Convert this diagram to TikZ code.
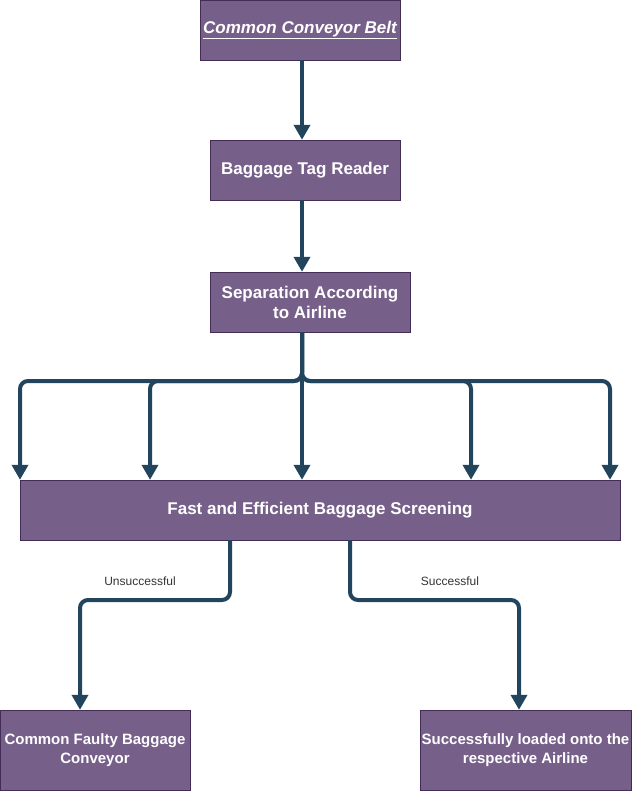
\documentclass[tikz,border=0pt]{standalone}
\usepackage{fontspec}
\setmainfont{Liberation Sans}
\usepackage{xcolor}
\usetikzlibrary{arrows.meta}
\definecolor{box area}{HTML}{76608A}
\definecolor{box edge}{HTML}{432D57}
\definecolor{flow line}{HTML}{23445D}
\colorlet{verdict text}{black!80}
\tikzset{stage/.style={draw=box edge, fill=box area, text=white, inner sep=0pt,
        align=center, font=\bfseries\fontsize{17}{20}\selectfont},
    outcome/.style={stage, font=\bfseries\fontsize{15}{19}\selectfont},
    flow/.style={draw=flow line, line width=4pt, rounded corners=8pt,
        -{Triangle[width=16pt,length=15pt]}},
    verdict/.style={text=verdict text, font=\fontsize{12}{14}\selectfont}}

\begin{document}
\begin{tikzpicture}[x=1pt, y=-1pt]
    \useasboundingbox (0,0) rectangle (631,791);
    \node[stage, minimum width=200pt, minimum height=60pt] (belt) at (300,30)
      {\textit{\underline{Common Conveyor Belt}}};
    \node[stage, minimum width=190pt, minimum height=60pt] (reader) at (305,170)
      {Baggage Tag Reader};
    \node[stage, minimum width=200pt, minimum height=60pt] (split) at (310,302)
      {Separation According\\to Airline};
    \node[stage, minimum width=600pt, minimum height=60pt] (screen) at (320,510)
      {Fast and Efficient Baggage Screening};
    \node[outcome, minimum width=190pt, minimum height=80pt] (faulty) at (95,750)
      {Common Faulty Baggage\\Conveyor};
    \node[outcome, minimum width=211pt, minimum height=80pt] (loaded) at (525.5,750)
      {Successfully loaded onto the\\respective Airline};
    \coordinate (spine) at (302,0);
    \draw[flow] (belt.south -| spine) -- (reader.north -| spine);
    \draw[flow] (reader.south -| spine) -- (split.north -| spine);
    \foreach \x in {20,150,471,610}
        \draw[flow] (split.south -| spine) |- (\x,381) -- (screen.north -| \x,0);
    \draw[flow] (split.south -| spine) -- (screen.north -| spine);
    \draw[flow] (screen.south -| 230,0) |- (80,600) -- (faulty.north -| 80,0);
    \draw[flow] (screen.south -| 350,0) |- (519,600) -- (loaded.north -| 519,0);
    \node[verdict] (fail) at (140,581) {Unsuccessful};
    \node[verdict] (pass) at (450,581) {Successful};
\end{tikzpicture}
\end{document}
